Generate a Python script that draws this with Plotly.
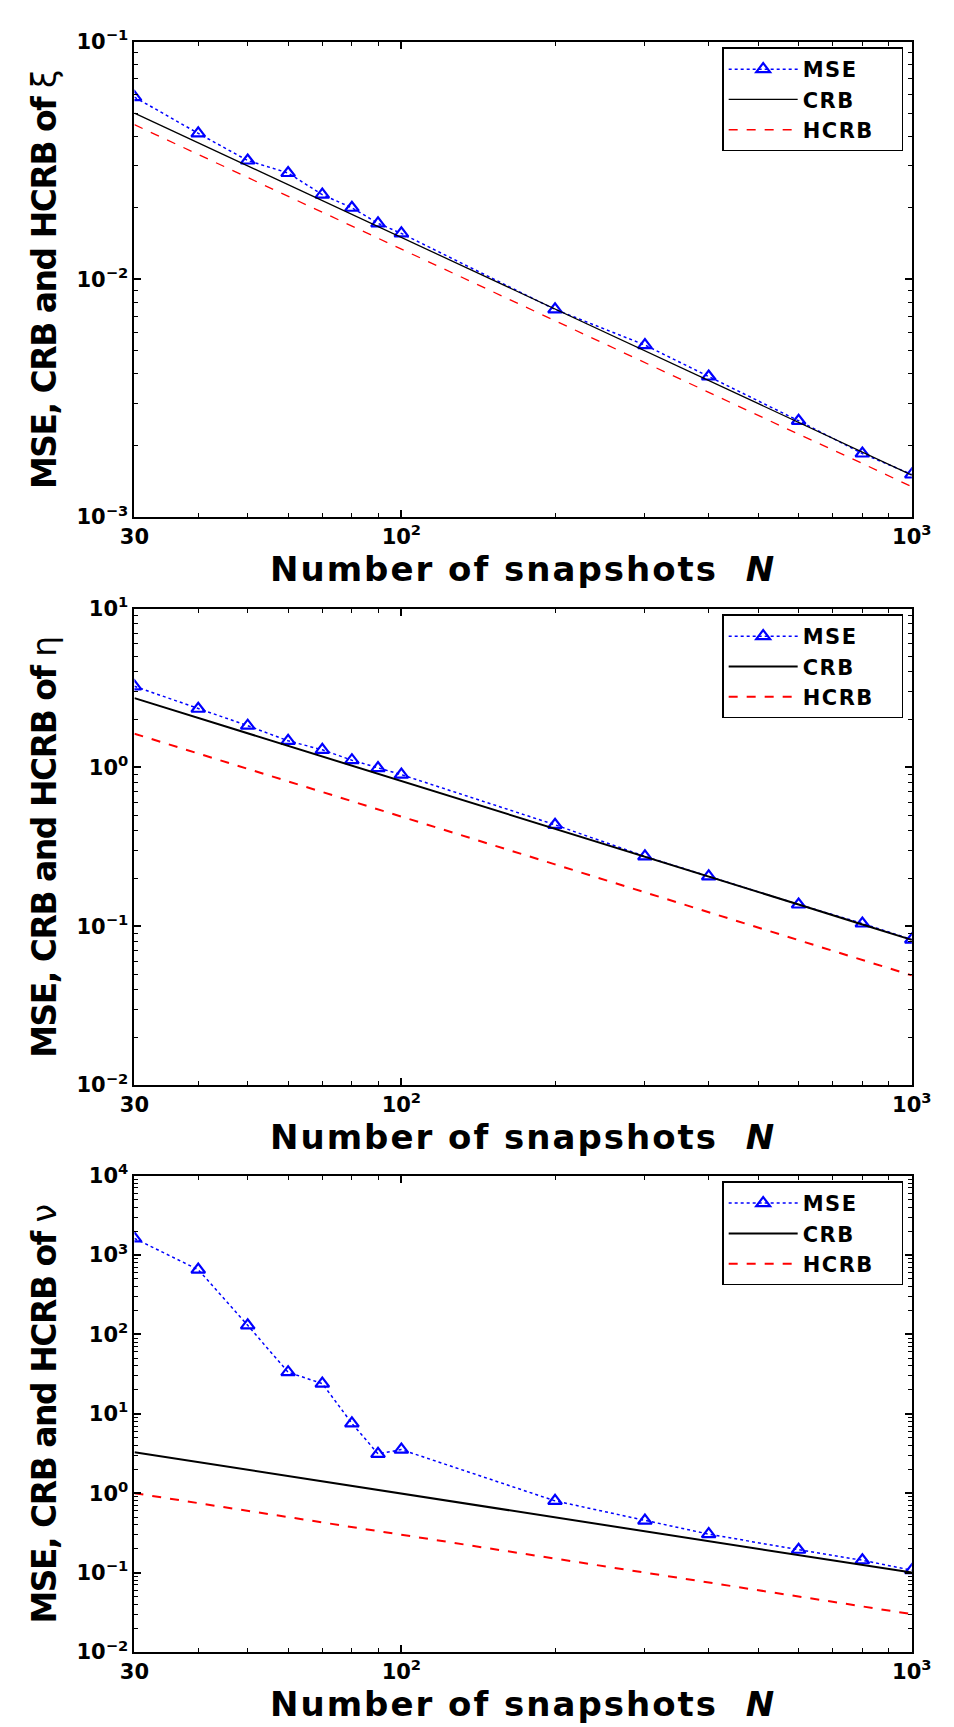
import math
import plotly.graph_objects as go

# ---------------- data ----------------
N = [30, 40, 50, 60, 70, 80, 90, 100, 200, 300, 400, 600, 800, 1000]

mse_xi = [0.0584, 0.0411, 0.0316, 0.0280, 0.0227, 0.0200, 0.0172, 0.0156,
          0.00747, 0.00529, 0.00390, 0.00254, 0.00185, 0.00151]
crb_xi = [0.0500, 0.0375, 0.0300, 0.0250, 0.0214, 0.0188, 0.0167, 0.0150,
          0.0075, 0.0050, 0.00375, 0.0025, 0.001875, 0.0015]
hcrb_xi = [0.0447, 0.0335, 0.0268, 0.0223, 0.0191, 0.0168, 0.0149, 0.0134,
           0.0067, 0.00447, 0.00335, 0.00223, 0.00168, 0.00134]

mse_eta = [3.24, 2.34, 1.83, 1.47, 1.29, 1.11, 0.99, 0.90,
           0.435, 0.275, 0.206, 0.137, 0.104, 0.0824]
crb_eta = [2.73, 2.05, 1.64, 1.37, 1.17, 1.025, 0.91, 0.82,
           0.41, 0.273, 0.205, 0.137, 0.1025, 0.082]
hcrb_eta = [1.63, 1.225, 0.98, 0.817, 0.70, 0.6125, 0.544, 0.49,
            0.245, 0.163, 0.1225, 0.0817, 0.0613, 0.049]

mse_nu = [1617, 653, 130, 33.4, 24.0, 7.58, 3.13, 3.54,
          0.80, 0.452, 0.305, 0.194, 0.143, 0.107]
crb_nu = [3.28, 2.46, 1.97, 1.64, 1.41, 1.23, 1.09, 0.985,
          0.493, 0.328, 0.246, 0.164, 0.123, 0.100]
hcrb_nu = [1.00, 0.75, 0.60, 0.50, 0.429, 0.375, 0.333, 0.30,
           0.15, 0.10, 0.075, 0.05, 0.0375, 0.030]

series_names = ["MSE", "CRB", "HCRB"]
x_tickvals = [30, 100, 1000]
x_ticktext = ["30", "10<sup>2</sup>", "10<sup>3</sup>"]
x_title = "Number of snapshots  <i>N</i>"
y_title = "MSE, CRB and HCRB of "

panels = [
    dict(mse=mse_xi, crb=crb_xi, hcrb=hcrb_xi, sym="ξ", ylog=(-3, -1), lw=1.3),
    dict(mse=mse_eta, crb=crb_eta, hcrb=hcrb_eta, sym="η", ylog=(-2, 1), lw=2.0),
    dict(mse=mse_nu, crb=crb_nu, hcrb=hcrb_nu, sym="ν", ylog=(-2, 4), lw=2.0),
]

# ---------------- layout geometry ----------------
W, H = 954, 1727
x_dom = [124 / W, 931 / W]
y_px = [(27, 510), (603, 1087), (1179, 1663)]

FONT = "DejaVu Sans"
NB = "&nbsp;"


def sup_label(e):
    s = str(e) if e >= 0 else "−" + str(-e)
    return "10<sup>" + s + "</sup>"


def minor_vals(lo_exp, hi_exp, lo=None, hi=None):
    vals = []
    for e in range(lo_exp, hi_exp + 1):
        for m in range(2, 10):
            v = m * 10 ** e
            if lo is not None and v <= lo:
                continue
            if hi is not None and v >= hi:
                continue
            vals.append(v)
    return vals


def legend_label(name):
    return "<span style='letter-spacing:1.5px'>" + name + "</span>" + NB * 3


fig = go.Figure()

for i, p in enumerate(panels):
    k = "" if i == 0 else str(i + 1)
    xa, ya, lg = "x" + k, "y" + k, "legend" + k
    fig.add_trace(go.Scatter(
        x=N, y=p["mse"], name=legend_label(series_names[0]), mode="lines+markers",
        line=dict(color="#0000ff", width=1.5, dash="dot"),
        marker=dict(symbol="triangle-up-open", size=12, color="#0000ff",
                    line=dict(width=2.2, color="#0000ff")),
        xaxis=xa, yaxis=ya, legend=lg))
    fig.add_trace(go.Scatter(
        x=N, y=p["crb"], name=legend_label(series_names[1]), mode="lines",
        line=dict(color="black", width=p["lw"]),
        xaxis=xa, yaxis=ya, legend=lg))
    fig.add_trace(go.Scatter(
        x=N, y=p["hcrb"], name=legend_label(series_names[2]), mode="lines",
        line=dict(color="#ff0000", width=p["lw"], dash="dash"),
        xaxis=xa, yaxis=ya, legend=lg))

    top, bot = y_px[i]
    y_dom = [1 - bot / H, 1 - top / H]
    lo, hi = p["ylog"]

    axis_common = dict(
        showline=True, linewidth=2, linecolor="black", mirror="allticks",
        ticks="inside", ticklen=7, tickwidth=1.5, tickcolor="black",
        showgrid=False, zeroline=False,
        tickfont=dict(family=FONT, size=21, color="black", weight="bold"),
    )

    fig.layout["xaxis" + k] = dict(
        axis_common, domain=x_dom, anchor=ya, type="log",
        range=[math.log10(30), 3],
        tickmode="array", tickvals=x_tickvals, ticktext=x_ticktext,
        minor=dict(tickvals=minor_vals(1, 2, lo=30, hi=1000), ticks="inside",
                   ticklen=4, tickwidth=1, tickcolor="black", showgrid=False),
        title=dict(text="<span style='letter-spacing:2px'>" + x_title + "</span>",
                   standoff=0,
                   font=dict(family=FONT, size=34, color="black", weight="bold")),
    )
    fig.layout["yaxis" + k] = dict(
        axis_common, domain=y_dom, anchor=xa, type="log",
        range=[lo, hi],
        tickmode="array", tickvals=[10 ** e for e in range(lo, hi + 1)],
        ticktext=[sup_label(e) for e in range(lo, hi + 1)],
        minor=dict(tickvals=minor_vals(lo, hi - 1), ticks="inside",
                   ticklen=4, tickwidth=1, tickcolor="black", showgrid=False),
        title=dict(text="<span style='letter-spacing:-1.5px'>" + y_title + "</span>"
                        + "<span style='font-weight:normal'>" + p["sym"] + "</span>",
                   standoff=10,
                   font=dict(family=FONT, size=33, color="black", weight="bold")),
    )
    fig.layout[lg] = dict(
        x=922 / W, xanchor="right", y=1 - (top + 6) / H, yanchor="top",
        bgcolor="white", bordercolor="black", borderwidth=1.5,
        font=dict(family=FONT, size=21, color="black", weight="bold"),
        itemwidth=69, tracegroupgap=0,
    )

fig.update_layout(
    width=W, height=H,
    margin=dict(l=0, r=0, t=0, b=0),
    paper_bgcolor="white", plot_bgcolor="white",
    showlegend=True,
)

fig.write_html("out.html")
